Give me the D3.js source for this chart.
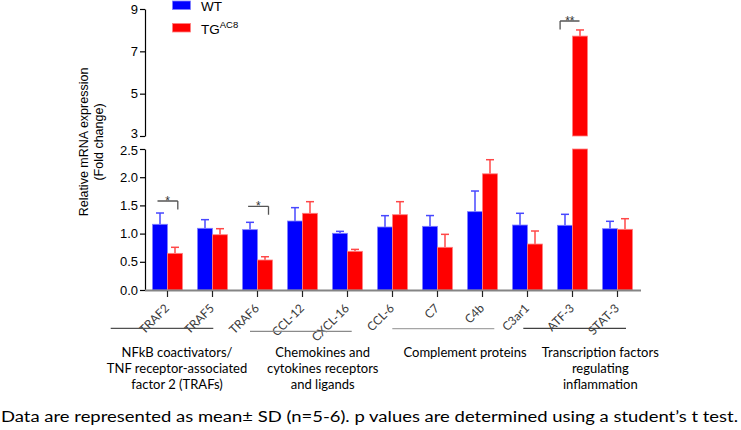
<!DOCTYPE html>
<html>
<head>
<meta charset="utf-8">
<script src="https://cdn.jsdelivr.net/npm/d3@7"></script>
<style>
  html, body { margin: 0; padding: 0; background: #fff; }
  svg { display: block; }
</style>
</head>
<body>
<div id="chart"></div>
<script>
// ---------------- DATA ----------------
const categories = ["TRAF2", "TRAF5", "TRAF6", "CCL-12", "CXCL-16", "CCL-6", "C7", "C4b", "C3ar1", "ATF-3", "STAT-3"];
const seriesNames = ["WT", "TG"];
const wtMean = [1.165, 1.094, 1.07, 1.223, 1.005, 1.117, 1.129, 1.389, 1.152, 1.147, 1.087];
const wtSD   = [0.20, 0.153, 0.13, 0.237, 0.035, 0.201, 0.191, 0.366, 0.208, 0.195, 0.131];
const tgMean = [0.65, 0.98, 0.532, 1.36, 0.686, 1.335, 0.757, 2.06, 0.815, 7.72, 1.076];
const tgSD   = [0.107, 0.107, 0.058, 0.206, 0.034, 0.231, 0.23, 0.25, 0.231, 0.29, 0.188];
const lowTicks = [0, 0.5, 1.0, 1.5, 2.0, 2.5];
const highTicks = [3, 5, 7, 9];
const groupLabels = [
  ["NFkB coactivators/", "TNF receptor-associated", "factor 2 (TRAFs)"],
  ["Chemokines and", "cytokines receptors", "and ligands"],
  ["Complement proteins"],
  ["Transcription factors", "regulating", "inflammation"]
];
const significance = [
  { category: "TRAF2", label: "*" },
  { category: "TRAF6", label: "*" },
  { category: "ATF-3", label: "**" }
];
const caption = "Data are represented as mean\u00b1 SD (n=5-6). p values are determined using a student\u2019s t test.";

// ---------------- LAYOUT ----------------
const W = 741, H = 430;
const svg = d3.select("#chart").append("svg").attr("width", W).attr("height", H);
const axisFont = "'Liberation Sans', Arial, sans-serif";
const calFont = "Lato, 'Open Sans', sans-serif";

const x = d3.scaleBand().domain(categories).range([145, 640]).paddingInner(1/3).paddingOuter(1/6);
const xs = d3.scaleBand().domain(seriesNames).range([0, x.bandwidth()]);
const yLow = d3.scaleLinear().domain([0, 2.5]).range([290, 149]);
const yHigh = d3.scaleLinear().domain([3, 9]).range([136, 9]);

const fillC = { WT: "#0000ff", TG: "#ff0000" };
const strokeC = { WT: "#8080ff", TG: "#ff8080" };
const errC = { WT: "#4848ff", TG: "#ff4848" };

// y axes
const gLow = svg.append("g").attr("transform", "translate(145,0)")
  .call(d3.axisLeft(yLow).tickValues(lowTicks).tickFormat(d3.format(".1f")).tickSize(5).tickSizeOuter(0).tickPadding(2));
const gHigh = svg.append("g").attr("transform", "translate(145,0)")
  .call(d3.axisLeft(yHigh).tickValues(highTicks).tickFormat(d3.format("d")).tickSize(5).tickSizeOuter(0).tickPadding(2));
[gLow, gHigh].forEach(g => {
  g.selectAll("text").attr("font-family", axisFont).attr("font-size", 13).attr("fill", "#000");
  g.select(".domain").attr("stroke", "#000").attr("stroke-width", 1.2);
  g.selectAll(".tick line").attr("stroke", "#000").attr("stroke-width", 1.2);
});
// keep the "3" and "2.5" labels of the broken axis apart
gHigh.selectAll(".tick text").filter(d => d === 3).attr("dy", "0.1em");
gLow.selectAll(".tick text").filter(d => d === 2.5).attr("dy", "0.45em");

// y axis title
const yt = svg.append("text").attr("transform", "translate(88,142) rotate(-90)")
  .attr("text-anchor", "middle").attr("font-family", axisFont).attr("font-size", 12.5).attr("fill", "#000");
yt.append("tspan").attr("x", 0).attr("dy", 0).text("Relative mRNA expression");
yt.append("tspan").attr("x", 0).attr("dy", 15).text("(Fold change)");

// bars
const rows = [];
categories.forEach((c, i) => {
  rows.push({ c, s: "WT", v: wtMean[i], sd: wtSD[i] });
  rows.push({ c, s: "TG", v: tgMean[i], sd: tgSD[i] });
});
const gb = svg.append("g");
rows.forEach(d => {
  const bx = x(d.c) + xs(d.s);
  const bw = xs.bandwidth();
  const top = d.v + d.sd;
  const yTop = d.v > 2.5 ? yHigh(top) : yLow(top);
  const yVal = d.v > 2.5 ? yHigh(d.v) : yLow(d.v);
  gb.append("line").attr("x1", bx + bw / 2).attr("x2", bx + bw / 2).attr("y1", yVal).attr("y2", yTop)
    .attr("stroke", errC[d.s]).attr("stroke-width", 1.5);
  gb.append("line").attr("x1", bx + bw / 2 - 4).attr("x2", bx + bw / 2 + 4).attr("y1", yTop).attr("y2", yTop)
    .attr("stroke", errC[d.s]).attr("stroke-width", 1.5);
  if (d.v > 2.5) {
    gb.append("rect").attr("x", bx).attr("width", bw).attr("y", yLow(2.5)).attr("height", yLow(0) - yLow(2.5))
      .attr("fill", fillC[d.s]).attr("stroke", strokeC[d.s]).attr("stroke-width", 0.8);
    gb.append("rect").attr("x", bx).attr("width", bw).attr("y", yHigh(d.v)).attr("height", yHigh(3) - yHigh(d.v))
      .attr("fill", fillC[d.s]).attr("stroke", strokeC[d.s]).attr("stroke-width", 0.8);
  } else {
    gb.append("rect").attr("x", bx).attr("width", bw).attr("y", yLow(d.v)).attr("height", yLow(0) - yLow(d.v))
      .attr("fill", fillC[d.s]).attr("stroke", strokeC[d.s]).attr("stroke-width", 0.8);
  }
});

// x axis
svg.append("line").attr("x1", 145).attr("x2", 641).attr("y1", 290.5).attr("y2", 290.5)
  .attr("stroke", "#858585").attr("stroke-width", 2);
const gx = svg.append("g");
categories.forEach(c => {
  const cx = x(c) + x.bandwidth() / 2;
  gx.append("line").attr("x1", cx).attr("x2", cx).attr("y1", 291).attr("y2", 297).attr("stroke", "#222").attr("stroke-width", 1.2);
  gx.append("text").attr("transform", `translate(${cx + 2.5},309) rotate(-45)`)
    .attr("text-anchor", "end").attr("font-family", calFont).attr("font-size", 12).attr("fill", "#3a3a3a").text(c);
});

// significance brackets
significance.forEach(s => {
  const cx = x(s.category) + x.bandwidth() / 2;
  let ly, x1, x2, dropX;
  if (s.category === "ATF-3") { ly = 21; x1 = cx - 12.4; x2 = cx + 7; dropX = x1; }
  else if (s.category === "TRAF2") { ly = 201; x1 = cx - 10; x2 = cx + 10.3; dropX = x2; }
  else { ly = 206.3; x1 = cx - 9.4; x2 = cx + 11; dropX = x2; }
  svg.append("path").attr("d", `M${x1},${ly}H${x2}M${dropX},${ly}V${ly + 8.5}`)
    .attr("fill", "none").attr("stroke", "#555").attr("stroke-width", 1.3);
  svg.append("text").attr("x", (x1 + x2) / 2).attr("y", ly + 3.5).attr("text-anchor", "middle")
    .attr("font-family", axisFont).attr("font-size", 12).attr("fill", "#333").text(s.label);
});

// legend
const lg = svg.append("g");
lg.append("rect").attr("x", 172.5).attr("y", 1).attr("width", 18).attr("height", 8.5).attr("fill", fillC.WT).attr("stroke", strokeC.WT).attr("stroke-width", 0.8);
lg.append("rect").attr("x", 172.5).attr("y", 23.5).attr("width", 18).attr("height", 8.5).attr("fill", fillC.TG).attr("stroke", strokeC.TG).attr("stroke-width", 0.8);
lg.append("text").attr("x", 201).attr("y", 10.7).attr("font-family", axisFont).attr("font-size", 13.5).attr("fill", "#000").text("WT");
const tgT = lg.append("text").attr("x", 201).attr("y", 34).attr("font-family", axisFont).attr("font-size", 13.5).attr("fill", "#000");
tgT.append("tspan").text("TG");
tgT.append("tspan").attr("dy", -6).attr("font-size", 9.5).text("AC8");

// group lines and labels
const groupLines = [
  { x1: 110.7, x2: 213.3, y: 328.3, c: "#505050" },
  { x1: 250, x2: 351.7, y: 331.3, c: "#8a8a8a" },
  { x1: 392.3, x2: 494.3, y: 328.7, c: "#a5a5a5" },
  { x1: 523.3, x2: 626, y: 328.3, c: "#404040" }
];
const groupCenters = [177, 322.7, 465, 600.3];
groupLines.forEach((g, i) => {
  svg.append("line").attr("x1", g.x1).attr("x2", g.x2).attr("y1", g.y).attr("y2", g.y).attr("stroke", g.c).attr("stroke-width", 1.2);
  const t = svg.append("text").attr("text-anchor", "middle").attr("font-family", calFont).attr("font-size", 13).attr("fill", "#000");
  groupLabels[i].forEach((ln, k) => {
    t.append("tspan").attr("x", groupCenters[i]).attr("y", 357 + k * 16).text(ln);
  });
});

// caption
svg.append("text").attr("x", 1).attr("y", 422).attr("font-family", calFont).attr("font-size", 15.5).attr("fill", "#000")
  .attr("textLength", 737).attr("lengthAdjust", "spacingAndGlyphs").text(caption);
</script>
</body>
</html>
